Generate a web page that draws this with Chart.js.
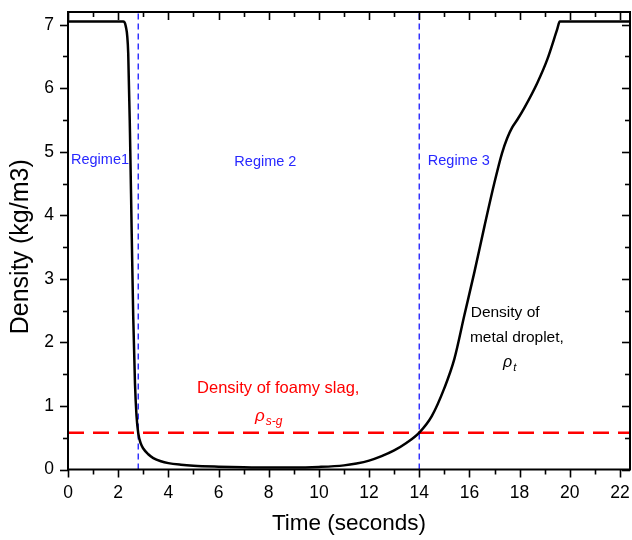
<!DOCTYPE html>
<html>
<head>
<meta charset="utf-8">
<title>Density vs time</title>
<script src="https://cdn.jsdelivr.net/npm/chart.js@4/dist/chart.umd.min.js"></script>
<style>
  html, body { margin: 0; padding: 0; background: #fff; }
  #wrap { width: 632px; height: 540px; }
</style>
</head>
<body>
<div id="wrap"><canvas id="c" width="632" height="540"></canvas></div>
<script>
// Density of the metal droplet over time (seconds, kg/m3)
const timeSeconds = [0, 2.2, 2.3, 2.4, 2.47, 2.54, 2.6, 2.67, 2.73, 2.8, 2.9, 3.0, 3.2, 3.4, 3.7, 4.0, 4.5, 5, 6, 7, 8, 9, 10, 11, 11.5, 12, 12.5, 13, 13.5, 14, 14.5, 15, 15.4, 15.8, 16.2, 16.6, 17.0, 17.3, 17.5, 17.7, 17.9, 18.2, 18.7, 19.1, 19.5, 19.6, 22.4];
const dropletDensity = [7.05, 7.05, 6.98, 6.55, 5.3, 3.7, 2.4, 1.35, 0.85, 0.57, 0.41, 0.33, 0.24, 0.18, 0.13, 0.10, 0.075, 0.06, 0.045, 0.035, 0.03, 0.03, 0.04, 0.065, 0.095, 0.14, 0.21, 0.30, 0.42, 0.58, 0.84, 1.28, 1.74, 2.43, 3.11, 3.83, 4.52, 4.98, 5.21, 5.38, 5.50, 5.70, 6.08, 6.45, 6.93, 7.05, 7.05];

// Density of the foamy slag (constant)
const slagDensity = 0.58;

// Boundaries between regimes (seconds)
const regimeBounds = [2.8, 14];

// Axis tick values
const xMajorTicks = [0, 2, 4, 6, 8, 10, 12, 14, 16, 18, 20, 22];
const yMajorTicks = [0, 1, 2, 3, 4, 5, 6, 7];
const xRange = [0, 22.4];
const yRange = [0, 7.2];

const FONT = "Arial, 'Liberation Sans', sans-serif";

const dropletPoints = timeSeconds.map((t, i) => ({ x: t, y: dropletDensity[i] }));
const slagPoints = [{ x: xRange[0], y: slagDensity }, { x: xRange[1], y: slagDensity }];
const boundDatasets = regimeBounds.map(b => ({
  data: [{ x: b, y: yRange[0] }, { x: b, y: yRange[1] }],
  borderColor: 'rgb(40,40,255)',
  borderWidth: 1.4,
  borderDash: [6, 4],
  pointRadius: 0,
  order: 3
}));

// Box frame with minor/major tick marks (outward on bottom/left, inward on top/right)
const frameTicks = {
  id: 'frameTicks',
  afterDatasetsDraw(chart) {
    const { ctx, chartArea: a, scales: { x, y } } = chart;
    ctx.save();
    ctx.strokeStyle = '#000';
    const seg = (x1, y1, x2, y2) => { ctx.beginPath(); ctx.moveTo(x1, y1); ctx.lineTo(x2, y2); ctx.stroke(); };
    ctx.lineWidth = 1.6;
    for (let v = 0; v <= 22; v++) {
      const px = Math.round(x.getPixelForValue(v)) + 0.5;
      const len = v % 2 === 0 ? 8 : 5;
      seg(px, a.bottom, px, a.bottom + len);
      seg(px, a.top, px, a.top + len);
    }
    for (let v = 0; v <= 7; v += 0.5) {
      const py = Math.round(y.getPixelForValue(v)) + 0.5;
      const len = Number.isInteger(v) ? 8 : 5;
      seg(a.left, py, a.left - len, py);
      seg(a.right, py, a.right - len, py);
    }
    ctx.lineWidth = 2;
    ctx.strokeRect(a.left, a.top, a.right - a.left, a.bottom - a.top);
    ctx.restore();
  }
};

// Text labels placed in data coordinates
const notes = [
  { text: 'Regime1', x: 0.12, y: 4.87, color: 'rgb(40,40,255)', size: 14.5, align: 'left' },
  { text: 'Regime 2', x: 6.63, y: 4.84, color: 'rgb(40,40,255)', size: 14.5, align: 'left' },
  { text: 'Regime 3', x: 14.34, y: 4.86, color: 'rgb(40,40,255)', size: 14.5, align: 'left' },
  { text: 'Density of foamy slag,', x: 8.38, y: 1.28, color: 'rgb(255,0,0)', size: 16.5, align: 'center' },
  { text: 'Density of', x: 16.05, y: 2.46, color: '#000', size: 15.5, align: 'left' },
  { text: 'metal droplet,', x: 16.02, y: 2.08, color: '#000', size: 15.5, align: 'left' }
];
const symbols = [
  { main: 'ρ', sub: 's-g', x: 7.45, y: 0.83, color: 'rgb(255,0,0)', size: 17 },
  { main: 'ρ', sub: 't', x: 17.34, y: 1.68, color: '#000', size: 16 }
];

const textLayer = {
  id: 'textLayer',
  afterDraw(chart) {
    const { ctx, scales: { x, y }, chartArea: a } = chart;
    ctx.save();
    ctx.textBaseline = 'middle';
    notes.forEach(n => {
      ctx.font = `${n.size}px ${FONT}`;
      ctx.fillStyle = n.color;
      ctx.textAlign = n.align;
      ctx.fillText(n.text, x.getPixelForValue(n.x), y.getPixelForValue(n.y));
    });
    symbols.forEach(s => {
      const px = x.getPixelForValue(s.x), py = y.getPixelForValue(s.y);
      ctx.fillStyle = s.color;
      ctx.textAlign = 'left';
      ctx.font = `italic ${s.size}px ${FONT}`;
      ctx.fillText(s.main, px, py);
      const w = ctx.measureText(s.main).width;
      ctx.font = `italic ${Math.round(s.size * 0.68)}px ${FONT}`;
      ctx.fillText(s.sub, px + w + 1, py + s.size * 0.3);
    });
    // axis titles
    ctx.fillStyle = '#000';
    ctx.font = `22.5px ${FONT}`;
    ctx.textAlign = 'center';
    ctx.fillText('Time (seconds)', (a.left + a.right) / 2, 524);
    ctx.translate(21, (a.top + a.bottom) / 2 + 6);
    ctx.rotate(-Math.PI / 2);
    ctx.font = `25px ${FONT}`;
    ctx.fillText('Density (kg/m3)', 0, 0);
    ctx.restore();
  }
};

new Chart(document.getElementById('c'), {
  type: 'line',
  data: {
    datasets: [
      {
        label: 'Density of metal droplet',
        data: dropletPoints,
        borderColor: '#000',
        borderWidth: 2.5,
        pointRadius: 0,
        cubicInterpolationMode: 'monotone',
        order: 1
      },
      {
        label: 'Density of foamy slag',
        data: slagPoints,
        borderColor: 'rgb(255,0,0)',
        borderWidth: 2.5,
        borderDash: [16, 9],
        pointRadius: 0,
        order: 2
      },
      ...boundDatasets
    ]
  },
  options: {
    responsive: false,
    devicePixelRatio: 1,
    animation: false,
    layout: { padding: { top: 12, right: 2, left: 0, bottom: 0 } },
    plugins: { legend: { display: false }, tooltip: { enabled: false } },
    scales: {
      x: {
        type: 'linear',
        min: xRange[0],
        max: xRange[1],
        afterFit: s => { s.height = 70.5; s.paddingLeft = 0; s.paddingRight = 0; },
        afterBuildTicks: s => { s.ticks = xMajorTicks.map(v => ({ value: v })); },
        grid: { display: false, drawTicks: false },
        border: { display: false },
        ticks: { color: '#000', font: { family: FONT, size: 17.5 }, padding: 13, maxRotation: 0, autoSkip: false }
      },
      y: {
        type: 'linear',
        min: yRange[0],
        max: yRange[1],
        afterFit: s => { s.width = 68; s.paddingTop = 0; s.paddingBottom = 0; },
        afterBuildTicks: s => { s.ticks = yMajorTicks.map(v => ({ value: v })); },
        grid: { display: false, drawTicks: false },
        border: { display: false },
        ticks: { color: '#000', font: { family: FONT, size: 17.5 }, padding: 14, autoSkip: false }
      }
    }
  },
  plugins: [frameTicks, textLayer]
});
</script>
</body>
</html>
